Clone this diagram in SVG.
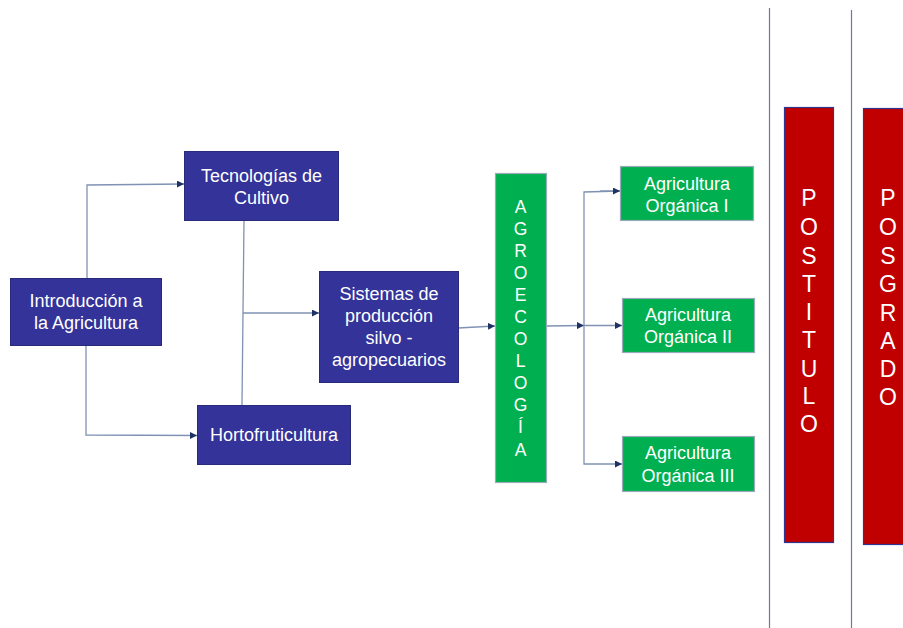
<svg xmlns="http://www.w3.org/2000/svg" width="903" height="628" viewBox="0 0 903 628">
  <defs>
    <marker id="arrow" viewBox="0 0 10 10" refX="10" refY="5" markerWidth="7" markerHeight="7" markerUnits="userSpaceOnUse" orient="auto">
      <path d="M0,0 L10,5 L0,10 z" fill="#1f3264"/>
    </marker>
    <style>
      .blue { fill: #333399; stroke: #2a2a7a; stroke-width: 1; }
      .green { fill: #00b050; stroke: #9aaab8; stroke-width: 1.2; }
      .red { fill: #c00000; stroke: #2f3592; stroke-width: 1.2; }
      .t { font-family: "Liberation Sans", Arial, sans-serif; font-size: 18px; fill: #ffffff; text-anchor: middle; }
      .v { font-family: "Liberation Sans", Arial, sans-serif; font-size: 17.5px; fill: #ffffff; text-anchor: middle; }
      .vr { font-family: "Liberation Sans", Arial, sans-serif; font-size: 23px; fill: #ffffff; text-anchor: middle; }
      .c { fill: none; stroke: #8092b4; stroke-width: 1.3; }
      .sep { stroke: #6a7aa0; stroke-width: 1.2; }
    </style>
  </defs>

  <rect width="903" height="628" fill="#ffffff"/>

  <!-- column separators -->
  <g id="separators">
    <line class="sep" x1="769.5" y1="8" x2="769.5" y2="628"/>
    <line class="sep" x1="851.5" y1="10" x2="851.5" y2="628"/>
  </g>

  <!-- connectors -->
  <g id="connectors">
    <polyline class="c" points="87,278 87,185 184,184" marker-end="url(#arrow)"/>
    <polyline class="c" points="86,345 86,435 197,435.5" marker-end="url(#arrow)"/>
    <polyline class="c" points="244,220 242,405"/>
    <line class="c" x1="243" y1="313" x2="319" y2="313" marker-end="url(#arrow)"/>
    <line class="c" x1="458" y1="328" x2="495" y2="326" marker-end="url(#arrow)"/>
    <line class="c" x1="546" y1="326" x2="584" y2="325.5" marker-end="url(#arrow)"/>
    <polyline class="c" points="620,191 584,192 584,464 622,464" marker-end="url(#arrow)"/>
    <line class="c" x1="584" y1="325.5" x2="622" y2="325.5" marker-end="url(#arrow)"/>
    <line class="c" x1="600" y1="191" x2="620" y2="191" marker-end="url(#arrow)"/>
  </g>

  <g id="intro">
    <rect class="blue" x="10.5" y="278.5" width="151" height="67"/>
    <text class="t" x="86" y="307">Introducción a</text>
    <text class="t" x="86" y="329">la Agricultura</text>
  </g>

  <g id="tecnologias">
    <rect class="blue" x="184.5" y="151.5" width="154" height="69"/>
    <text class="t" x="261.5" y="182">Tecnologías de</text>
    <text class="t" x="261.5" y="204">Cultivo</text>
  </g>

  <g id="hortofruticultura">
    <rect class="blue" x="197.5" y="405.5" width="153" height="59"/>
    <text class="t" x="274" y="441">Hortofruticultura</text>
  </g>

  <g id="sistemas">
    <rect class="blue" x="319.5" y="271.5" width="139" height="111"/>
    <text class="t" x="389" y="300">Sistemas de</text>
    <text class="t" x="389" y="322">producción</text>
    <text class="t" x="389" y="344">silvo -</text>
    <text class="t" x="389" y="366">agropecuarios</text>
  </g>

  <g id="agroecologia">
    <rect class="green" x="495.5" y="173.5" width="51" height="309"/>
    <text class="v" x="520.5" y="213">A</text>
    <text class="v" x="520.5" y="235">G</text>
    <text class="v" x="520.5" y="257">R</text>
    <text class="v" x="520.5" y="279">O</text>
    <text class="v" x="520.5" y="301">E</text>
    <text class="v" x="520.5" y="323">C</text>
    <text class="v" x="520.5" y="345">O</text>
    <text class="v" x="520.5" y="367">L</text>
    <text class="v" x="520.5" y="389">O</text>
    <text class="v" x="520.5" y="411">G</text>
    <text class="v" x="520.5" y="433">Í</text>
    <text class="v" x="520.5" y="456">A</text>
  </g>

  <g id="organica1">
    <rect class="green" x="620.5" y="166.5" width="133" height="54"/>
    <text class="t" x="687" y="190">Agricultura</text>
    <text class="t" x="687" y="212">Orgánica I</text>
  </g>

  <g id="organica2">
    <rect class="green" x="622.5" y="298.5" width="132" height="54"/>
    <text class="t" x="688" y="321">Agricultura</text>
    <text class="t" x="688" y="343">Orgánica II</text>
  </g>

  <g id="organica3">
    <rect class="green" x="622.5" y="436.5" width="132" height="55"/>
    <text class="t" x="688" y="459">Agricultura</text>
    <text class="t" x="688" y="482">Orgánica III</text>
  </g>

  <g id="postitulo">
    <rect class="red" x="784.5" y="107.5" width="49" height="435"/>
    <text class="vr" x="809" y="206">P</text>
    <text class="vr" x="809" y="235">O</text>
    <text class="vr" x="809" y="264">S</text>
    <text class="vr" x="809" y="292">T</text>
    <text class="vr" x="809" y="320">I</text>
    <text class="vr" x="809" y="348">T</text>
    <text class="vr" x="809" y="377">U</text>
    <text class="vr" x="809" y="404">L</text>
    <text class="vr" x="809" y="432">O</text>
  </g>

  <g id="posgrado">
    <rect class="red" x="863.5" y="108.5" width="45" height="436"/>
    <text class="vr" x="888" y="206">P</text>
    <text class="vr" x="888" y="235">O</text>
    <text class="vr" x="888" y="264">S</text>
    <text class="vr" x="888" y="292">G</text>
    <text class="vr" x="888" y="321">R</text>
    <text class="vr" x="888" y="349">A</text>
    <text class="vr" x="888" y="377">D</text>
    <text class="vr" x="888" y="405">O</text>
  </g>
</svg>
